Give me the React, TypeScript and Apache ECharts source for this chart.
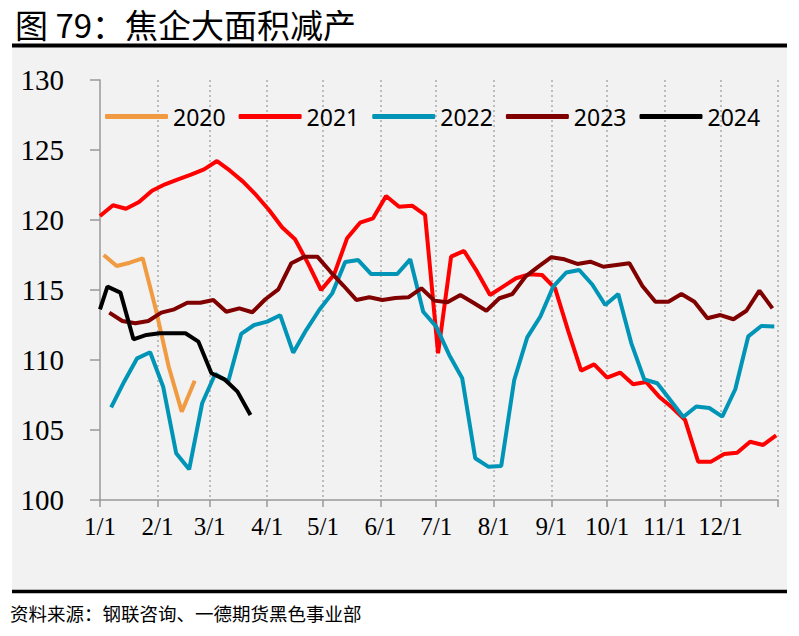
import React, { useEffect, useRef } from "react";
import * as echarts from "echarts";

// ---- data ----
const monthLabels = ["1/1", "2/1", "3/1", "4/1", "5/1", "6/1", "7/1", "8/1", "9/1", "10/1", "11/1", "12/1"];
const monthStartDays = [0, 31, 59, 90, 120, 151, 181, 212, 243, 273, 304, 334];
const yearLength = 365;

const seriesNames = ["2020", "2021", "2022", "2023", "2024"];

const start2020 = 2;
const values2020 = [117.5, 116.71, 116.95, 117.26, 113.64, 109.52, 106.31, 108.52];

const start2021 = 0;
const values2021 = [
  120.29, 121.05, 120.8, 121.29, 122.09, 122.55, 122.9, 123.24, 123.62, 124.21,
  123.52, 122.74, 121.79, 120.71, 119.48, 118.62, 116.9, 115.0, 116.1, 118.69,
  119.81, 120.12, 121.71, 120.95, 121.02, 120.36, 110.48, 117.38, 117.79, 116.31,
  114.64, 115.24, 115.84, 116.12, 116.07, 115.12, 112.1, 109.24, 109.69, 108.74,
  109.1, 108.27, 108.43, 107.38, 106.61, 105.71, 102.74, 102.74, 103.29, 103.38,
  104.16, 103.93, 104.61,
];

const start2022 = 6;
const values2022 = [
  106.62, 108.45, 110.12, 110.55, 108.09, 103.34, 102.19, 106.91, 109.0, 108.45,
  111.86, 112.5, 112.74, 113.2, 110.52, 112.14, 113.57, 114.76, 117.0, 117.14,
  116.14, 116.14, 116.14, 117.19, 113.45, 112.38, 110.36, 108.69, 102.98, 102.38,
  102.43, 108.57, 111.62, 113.09, 115.24, 116.25, 116.43, 115.39, 113.93, 114.71,
  111.21, 108.62, 108.34, 107.14, 105.93, 106.68, 106.57, 105.95, 107.91, 111.69,
  112.43, 112.39,
];

const start2023 = 5;
const values2023 = [
  113.38, 112.79, 112.62, 112.79, 113.38, 113.62, 114.09, 114.09, 114.29, 113.45,
  113.69, 113.41, 114.34, 115.05, 116.91, 117.38, 117.38, 116.32, 115.32, 114.29,
  114.48, 114.29, 114.43, 114.48, 115.12, 114.24, 114.12, 114.64, 114.09, 113.52,
  114.41, 114.71, 115.95, 116.67, 117.34, 117.19, 116.86, 117.02, 116.66, 116.79,
  116.91, 115.29, 114.16, 114.16, 114.71, 114.16, 112.98, 113.21, 112.91, 113.52,
  114.95, 113.69,
];

const days2024 = [0, 4, 11, 18, 25, 32, 39, 46, 53, 60, 67, 74, 81];
const values2024 = [113.62, 115.24, 114.81, 111.48, 111.79, 111.91, 111.91, 111.91, 111.31, 109.05, 108.62, 107.74, 106.07];

const seriesColors = ["#F09A41", "#FF0000", "#0094B6", "#800000", "#000000"];

const titleText = "图 79：焦企大面积减产";
const sourceText = "资料来源：钢联咨询、一德期货黑色事业部";

function weekly(start: number, vals: number[]) {
  return vals.map((v, i) => [start + 7 * i, v]);
}

export default function App() {
  const ref = useRef<HTMLDivElement>(null);

  useEffect(() => {
    if (!ref.current) return;
    const chart = echarts.init(ref.current, undefined, { renderer: "svg" });

    const dayCategories: string[] = [];
    for (let d = 0; d <= yearLength; d++) dayCategories.push(String(d));
    const labelByDay: Record<number, string> = {};
    monthStartDays.forEach((d, i) => (labelByDay[d] = monthLabels[i]));
    const tickDays = new Set<number>([...monthStartDays, yearLength]);

    const seriesData = [
      weekly(start2020, values2020),
      weekly(start2021, values2021),
      weekly(start2022, values2022),
      weekly(start2023, values2023),
      days2024.map((d, i) => [d, values2024[i]]),
    ];

    const serif = '"Liberation Serif", "Times New Roman", serif';

    chart.setOption({
      animation: false,
      backgroundColor: "#ffffff",
      graphic: [
        { type: "rect", z: -100, shape: { x: 12, y: 47, width: 775, height: 543 }, style: { fill: "#F2F2F2" } },
        { type: "line", shape: { x1: 12, y1: 45.5, x2: 787, y2: 45.5 }, style: { stroke: "#000", lineWidth: 4 } },
        { type: "line", shape: { x1: 12, y1: 591.5, x2: 787, y2: 591.5 }, style: { stroke: "#000", lineWidth: 3.5 } },
        {
          type: "text",
          x: 15,
          y: 24,
          style: { text: titleText, font: '33px "Noto Sans CJK SC"', fill: "#000", verticalAlign: "middle" },
        },
        {
          type: "text",
          x: 10,
          y: 613,
          style: { text: sourceText, font: '18.5px "Noto Sans CJK SC"', fill: "#000", verticalAlign: "middle" },
        },
      ],
      legend: {
        data: seriesNames,
        left: 100,
        top: 100,
        icon: "roundRect",
        itemWidth: 63,
        itemHeight: 5,
        itemGap: 13,
        textStyle: { fontFamily: "Noto Sans", fontSize: 23, color: "#000" },
      },
      grid: { left: 100, right: 21, top: 80, bottom: 136, containLabel: false },
      xAxis: {
        type: "category",
        data: dayCategories,
        boundaryGap: false,
        axisLine: { lineStyle: { color: "#999", width: 1.5 } },
        axisTick: {
          show: true,
          length: 7,
          interval: (index: number) => tickDays.has(index),
          lineStyle: { color: "#999", width: 1.5 },
        },
        axisLabel: {
          interval: (index: number) => labelByDay[index] !== undefined,
          formatter: (_v: string, index: number) => labelByDay[index] ?? "",
          fontFamily: serif,
          fontSize: 25,
          color: "#000",
          margin: 14,
        },
        splitLine: {
          show: true,
          interval: (index: number) => tickDays.has(index) && index !== 0,
          lineStyle: { color: "#AAAAAA", type: [2, 3], width: 1.5 },
        },
      },
      yAxis: {
        type: "value",
        min: 100,
        max: 130,
        interval: 5,
        axisLine: { show: true, lineStyle: { color: "#999", width: 1.5 } },
        axisTick: { show: true, length: 10, lineStyle: { color: "#999", width: 1.5 } },
        axisLabel: { fontFamily: serif, fontSize: 29, color: "#000", margin: 36 },
        splitLine: { show: false },
      },
      series: seriesNames.map((name, i) => ({
        name,
        type: "line",
        data: seriesData[i],
        showSymbol: false,
        symbol: "none",
        lineStyle: { color: seriesColors[i], width: 4 },
        itemStyle: { color: seriesColors[i] },
      })),
    });

    return () => chart.dispose();
  }, []);

  return <div ref={ref} style={{ position: "absolute", left: 0, top: 0, width: 799, height: 636 }} />;
}
